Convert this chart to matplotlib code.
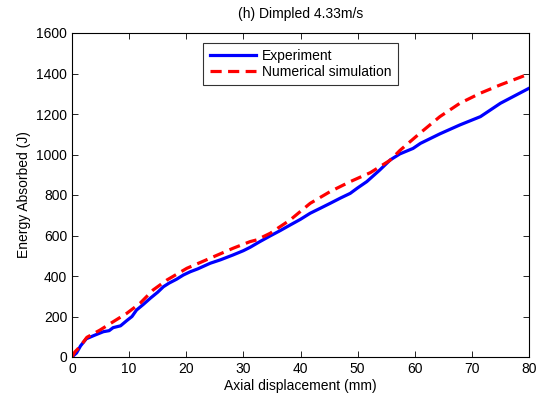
import matplotlib
matplotlib.use("Agg")
import matplotlib.pyplot as plt

plt.rcParams['font.family'] = ['Liberation Sans', 'DejaVu Sans']

exp_x = [0, 0.8, 1.5, 2.5, 4, 5.5, 6.5, 7.2, 8.5, 9.6, 10.5, 11.3, 12.5, 13.7, 15, 16, 17, 18.3,
         19.5, 20.7, 22, 24.2, 26, 28.2, 30, 31.2, 32.9, 34.7, 36.5, 38.2, 40, 41.7, 43.5, 45.2,
         47, 48.7, 50, 51.6, 53.9, 55.7, 57.4, 59.7, 61, 64.4, 67.9, 71.5, 75, 80]
exp_y = [0, 20, 55, 90, 108, 125, 130, 145, 154, 180, 200, 232, 260, 290, 320, 347, 365, 384,
         405, 421, 435, 463, 480, 504, 525, 542, 570, 598, 625, 652, 680, 710, 735, 759,
         785, 808, 835, 866, 924, 973, 1003, 1030, 1055, 1102, 1146, 1187, 1253, 1327]

sim_x = [0, 0.5, 1.4, 2.6, 4.9, 7.2, 9.6, 11.9, 14.2, 16.6, 20.1, 24.2, 28.2, 31.2, 32.3, 34.7,
         38.2, 41.7, 45.2, 48.7, 52.2, 53.9, 55.7, 57.4, 60.9, 64.4, 67.9, 71.5, 75, 80]
sim_y = [0, 25, 51, 97, 133, 174, 216, 265, 331, 380, 438, 488, 537, 570, 578, 611,
         677, 759, 817, 866, 910, 940, 972, 1020, 1105, 1187, 1253, 1303, 1344, 1398]

xticks = [0, 10, 20, 30, 40, 50, 60, 70, 80]
yticks = [0, 200, 400, 600, 800, 1000, 1200, 1400, 1600]

fig = plt.figure(figsize=(5.44, 4.03), dpi=100)
ax = fig.add_axes([72/544, 46/403, 457/544, 324/403])

ax.plot(exp_x, exp_y, color='#0000ff', lw=2.3, label='Experiment')
ax.plot(sim_x, sim_y, color='#ff0000', lw=2.3, ls=(0, (3.5, 2)), label='Numerical simulation')

ax.set_xlim(0, 80)
ax.set_ylim(0, 1600)
ax.set_xticks(xticks)
ax.set_yticks(yticks)
ax.tick_params(direction='in', top=True, right=True, labelsize=10, length=4, width=0.6)
for s in ax.spines.values():
    s.set_linewidth(0.8)

ax.set_xlabel('Axial displacement (mm)', fontsize=10, labelpad=2)
ax.set_ylabel('Energy Absorbed (J)', fontsize=10, labelpad=4)
ax.set_title('(h) Dimpled 4.33m/s', fontsize=10, pad=11)

leg = ax.legend(loc='upper center', bbox_to_anchor=(0.5, 0.97), fontsize=10,
                frameon=True, fancybox=False, edgecolor='black', handlelength=3.3,
                borderaxespad=0, labelspacing=0.15, borderpad=0.45, handletextpad=0.45)
leg.get_frame().set_linewidth(0.8)

fig.savefig('out.png', dpi=100)
